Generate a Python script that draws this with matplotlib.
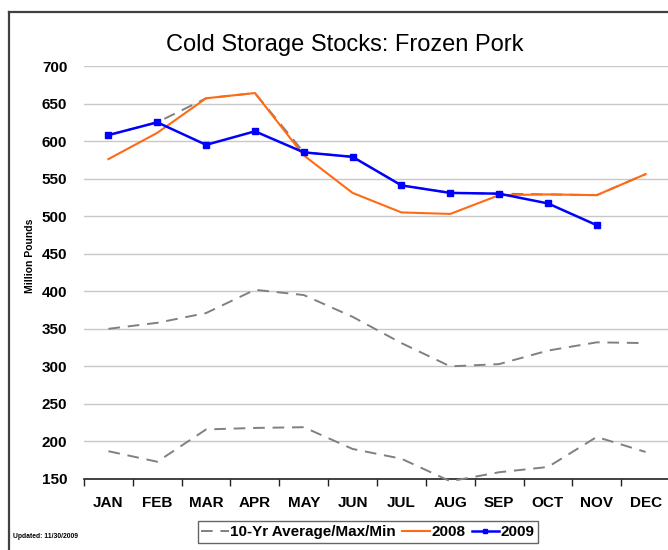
import matplotlib
matplotlib.use("Agg")
import matplotlib.pyplot as plt
from matplotlib.lines import Line2D
import numpy as np

plt.rcParams['font.family'] = ['Liberation Sans', 'DejaVu Sans']

months = ["JAN", "FEB", "MAR", "APR", "MAY", "JUN", "JUL", "AUG", "SEP", "OCT", "NOV", "DEC"]
avg_10yr = [350, 358, 371, 402, 395, 366, 331, 300, 303, 321, 332, 331]
max_10yr = [608, 625, 657, 664, 585, 579, 541, 531, 530, 529, 528, 556]
min_10yr = [187, 173, 216, 218, 219, 190, 177, 147, 159, 166, 206, 186]
stocks_2008 = [576, 611, 657, 664, 581, 531, 505, 503, 528, 529, 528, 556]
stocks_2009 = [608, 625, 595, 613, 585, 579, 541, 531, 530, 517, 488]
y_ticks = [150, 200, 250, 300, 350, 400, 450, 500, 550, 600, 650, 700]

W, H = 668, 550
fig = plt.figure(figsize=(W / 100, H / 100), dpi=100)
ax = fig.add_axes([84 / W, 1 - 479 / H, 586 / W, 413 / H])

x = np.arange(len(months))
gray = "#808080"
dash = (0, (6, 4))
ax.plot(x, avg_10yr, color=gray, lw=1.4, ls=dash, zorder=3)
ax.plot(x, max_10yr, color=gray, lw=1.4, ls=dash, zorder=3)
ax.plot(x, min_10yr, color=gray, lw=1.4, ls=dash, zorder=3, clip_on=False)
ax.plot(x, stocks_2008, color="#FF6A13", lw=1.5, zorder=4)
ax.plot(x[:len(stocks_2009)], stocks_2009, color="#0000FF", lw=1.8,
        marker="s", ms=4.5, zorder=5)

ax.set_xlim(-0.5, 11.5)
ax.set_ylim(150, 700)
ax.set_yticks(y_ticks)
ax.set_yticklabels([str(v) for v in y_ticks], fontsize=11, fontweight="bold")
ax.set_xticks(x)
ax.set_xticklabels(months, fontsize=11, fontweight="bold")
ax.set_xticks(np.arange(-0.5, 11.5, 1), minor=True)
ax.tick_params(axis="x", which="major", length=0, pad=12)
ax.tick_params(axis="x", which="minor", length=5, width=1, color="#222222", direction="out")
ax.tick_params(axis="y", length=0, pad=12)
ax.grid(axis="y", color="#C8C8C8", lw=1)
ax.set_axisbelow(True)
for s in ["top", "right", "left"]:
    ax.spines[s].set_visible(False)
ax.spines["bottom"].set_color("#222222")
ax.spines["bottom"].set_linewidth(1.2)

fig.text(345 / W, 1 - 45 / H, "Cold Storage Stocks: Frozen Pork",
         ha="center", va="center", fontsize=17)
fig.text(30 / W, 1 - 256 / H, "Million Pounds", rotation=90,
         ha="center", va="center", fontsize=7.5, fontweight="bold")
fig.text(13 / W, 1 - 537 / H, "Updated: 11/30/2009",
         ha="left", va="center", fontsize=4.9, fontweight="bold")

# outer frame
fig.add_artist(Line2D([8.5 / W, 1.0], [1 - 11.5 / H, 1 - 11.5 / H],
                      color="#404040", lw=1.6, transform=fig.transFigure))
fig.add_artist(Line2D([8.5 / W, 8.5 / W], [0, 1 - 11.5 / H],
                      color="#404040", lw=1.6, transform=fig.transFigure))

handles = [
    Line2D([], [], color=gray, lw=1.4, ls=dash),
    Line2D([], [], color="#FF6A13", lw=1.5),
    Line2D([], [], color="#0000FF", lw=1.8, marker="s", ms=3),
]
labels = ["10-Yr Average/Max/Min", "2008", "2009"]
leg = fig.legend(handles, labels, loc="center", bbox_to_anchor=(368 / W, 1 - 532 / H),
                 ncol=3, frameon=True, fancybox=False, edgecolor="#404040",
                 prop={"size": 11, "weight": "bold"}, handlelength=1.8,
                 handletextpad=0.1, columnspacing=0.4, borderpad=0.25,
                 borderaxespad=0)
leg.get_frame().set_linewidth(1.0)

fig.savefig("out.png", dpi=100)
